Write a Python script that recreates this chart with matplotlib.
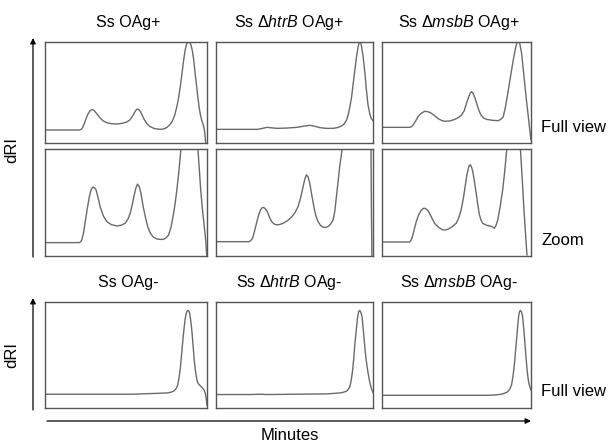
import numpy as np
import matplotlib.pyplot as plt

plt.rcParams['font.family'] = ['Liberation Sans', 'DejaVu Sans']
plt.rcParams['mathtext.fontset'] = 'custom'
plt.rcParams['mathtext.rm'] = 'Liberation Sans'
plt.rcParams['mathtext.it'] = 'Liberation Sans:italic'

# --- data (x: % of run window, y: % of panel height) ---
# row 1, full view (OAg+)
x_wt_full = [0, 21.6, 22.5, 23.3, 24.3, 25.4, 26.4, 27.4, 28.3, 29.3, 30.2, 31.1, 34, 36, 38.1, 41, 44.3,
             47.5, 50.5, 52.2, 53.6, 54.8, 55.7, 56.4, 57.1, 57.9, 58.8, 60, 61.2, 63, 64.9, 67.5, 71.1,
             73.5, 75.3, 77, 78.4, 80, 81.4, 82.5, 83.5, 84.5, 85.6, 86.4, 87.2, 88, 88.7, 89.4, 90.1,
             91, 91.8, 92.6, 93.4, 94.3, 95.1, 95.7, 96.3, 96.9, 97.5, 98, 98.4, 98.8, 99.2]
y_wt_full = [12.9, 12.9, 13.6, 15.5, 19.5, 24.4, 28.3, 31, 32.5, 33, 32.4, 30.7, 24.8, 21.8, 20.1, 19.1, 18.8,
             19.4, 20.8, 22.6, 25.4, 28.8, 31.4, 33, 33.7, 33, 31.4, 27.5, 23.4, 19, 16.2, 14.3, 13.5,
             14, 15.5, 18, 21.1, 27, 36, 45, 55.8, 68, 82.2, 91, 97, 100, 100.7, 99.5, 97,
             91, 82.2, 70, 59.1, 46, 36, 30, 25.4, 21.5, 18.8, 16, 12.9, 7, 0]

x_htrb_full = [0, 26.3, 29, 32.6, 35.5, 38.9, 45, 51.6, 56, 60, 63, 66.3, 70, 74.7, 77.5, 80, 81.7, 83.2,
               84.3, 85.3, 86.4, 87.4, 88.5, 89.5, 90.5, 91.2, 91.6, 92.1, 92.8, 93.7, 94.8, 95.8, 96.8,
               97.9, 98.8, 100]
y_htrb_full = [13.5, 13.5, 14.3, 15.5, 15, 14.5, 14.8, 15.5, 16.7, 17.5, 16.5, 15.2, 14.5, 14.5, 15.3, 16.8,
               19, 22.8, 28.5, 36, 46, 59.1, 73, 85.5, 95, 99.5, 101, 99.5, 95, 85.5, 70, 52.5, 38,
               29.4, 24.5, 22]

x_msbb_full = [0, 18.6, 19.8, 20.9, 22.5, 24.2, 26.5, 28.7, 31, 33.2, 35.5, 37.7, 40, 42.2, 45.5, 48.9,
               51.3, 53.4, 55.2, 56.7, 58, 59.2, 60.1, 61, 62.3, 63.5, 65, 66.4, 68.2, 70.2, 74, 78,
               79.8, 81.4, 82.9, 84.8, 86.5, 88.1, 89.5, 90.6, 91.5, 92.4, 93.7, 94.8, 96, 97.1, 98.2,
               99.1, 100]
y_msbb_full = [15.5, 15.5, 16.2, 17.8, 21.5, 26.1, 29.6, 31.4, 30.9, 29.4, 26.8, 24.1, 22.3, 21.5, 21.8, 23.4,
               25.2, 27.7, 32, 39.3, 45, 49.5, 50.8, 49.5, 45, 39.3, 32.5, 27.7, 24.8, 23.4, 22.5, 22.1,
               23.5, 26.1, 36, 52.5, 68, 82.2, 93, 99.5, 101.5, 99, 88.8, 73, 55.8, 40, 26.1,
               14, 3]

# row 2, zoom (OAg+); values above 100 run off the top of the panel
x_wt_zoom = [0, 21.2, 22, 22.7, 23.7, 24.7, 26, 27.4, 28.5, 29.5, 30.5, 31.5, 32.7, 34, 36, 38.1, 41,
             44.3, 47, 49.5, 51.2, 52.6, 54, 55.1, 56.2, 57.1, 58.1, 59.2, 60.5, 61.9, 63.4, 65, 67,
             69.1, 71, 73.2, 74.8, 76.3, 77.8, 79.4, 80.4, 81.4, 82.5, 83.5, 84.5, 88.7, 94.5, 95.3,
             96.1, 97.1, 98.1, 98.7, 99.2, 99.8]
y_wt_zoom = [12.5, 12.5, 13.3, 15, 21, 30.6, 43.5, 55.6, 62, 64.4, 63.8, 61.9, 55, 46.3, 37.5, 32.2, 29.3,
             28.1, 28.7, 30.6, 34.5, 40, 49, 57.2, 64, 67.2, 65, 58.8, 47, 36.9, 27.5, 21.3, 17.5,
             15.9, 15.5, 15.6, 17, 19.7, 27, 40, 50, 61.9, 77, 93.1, 110, 240, 97.8, 80,
             61.9, 45, 30.6, 22, 15, 0.9]

x_htrb_zoom = [0, 21.2, 22.2, 23.3, 24.5, 25.8, 27.1, 28.4, 29.5, 30.5, 31.5, 32.6, 34, 35.4, 37, 38.6,
               40.7, 42.8, 45.5, 48.1, 50.3, 52.3, 54, 55.5, 56.6, 57.6, 58.6, 59.7, 61, 62.3, 63.6, 65,
               66.6, 68.2, 69.8, 71.4, 73, 74.6, 75.7, 76.7, 77.8, 78.8, 80.3, 82, 91.6, 98.5, 99, 99.3]
y_htrb_zoom = [13.4, 13.4, 14.5, 16.6, 23, 30.6, 38, 43.1, 45.3, 45.3, 44, 41.6, 36.5, 32.2, 30, 29.1,
               29.5, 30.6, 33, 36.3, 40.5, 46.3, 55, 65, 72, 75.9, 74, 68.1, 57, 46.3, 37.5, 32.2,
               28.5, 26.9, 26.7, 27.5, 29.8, 33.8, 42, 55.6, 70, 83.8, 99.4, 200, 1200, 150, 40, 0]

x_msbb_zoom = [0, 18.5, 19.3, 20.1, 21.5, 23, 24.6, 26.3, 27.5, 28.6, 30, 31.3, 33.3, 35.3, 38, 40.8,
               42.5, 44.2, 47, 49.8, 51.5, 53.1, 54.5, 55.8, 57, 58, 58.6, 59.2, 60, 60.9, 62, 63.2,
               64.3, 65.4, 66.5, 67.6, 70, 72.1, 73.8, 75.4, 76.5, 77.7, 79.3, 81, 82.2, 83.3, 84.4,
               91.5, 92.9, 94.4, 95.2, 96, 96.7, 97.3]
y_msbb_zoom = [13.1, 13.1, 14.3, 16.6, 24, 32.2, 38.5, 42.5, 44.3, 44.7, 43.6, 41.6, 36, 30.6, 26.7, 24.4,
               24.3, 25, 27.3, 30.6, 35.5, 43.1, 53, 65, 76, 82.2, 84.5, 85.3, 83.5, 79.1, 70, 58.8,
               48, 38.4, 33.5, 30.6, 28.8, 28.1, 27.5, 25.9, 28.5, 33.8, 46, 61.9, 77, 93.1, 110,
               190, 100, 65, 45, 27.5, 13, 1]

# row 3, full view (OAg-)
x_wt_neg = [0, 54.6, 58.8, 67, 75.3, 77.5, 79.4, 80.8, 81.9, 82.7, 83.5, 84.4, 85.2, 85.9, 86.6, 87.3,
            88, 88.7, 89.3, 90, 90.7, 91.5, 92.2, 93, 93.8, 94.6, 95.5, 96.5, 97.5, 98.3, 99, 99.5, 100]
y_wt_neg = [13, 13, 13.3, 13.7, 14.2, 14.8, 15.8, 18, 21.5, 28, 37.3, 52, 65.8, 76, 84.8, 90,
            92.1, 91.5, 89.6, 82, 72.2, 57, 43.7, 33.5, 26.3, 23, 21.5, 20, 18.4, 16.5, 13.6, 9, 2.5]

x_htrb_neg = [0, 21.8, 28.1, 32.3, 50, 70.4, 78.9, 81, 83.1, 84.2, 85.2, 86, 86.9, 87.7, 88.4, 89.3,
              90.1, 90.8, 91.5, 92.2, 93, 93.6, 94.3, 95, 95.8, 96.7, 97.5, 98.2, 99, 100]
y_htrb_neg = [12.7, 12.7, 13, 12.7, 13, 13.3, 14.2, 14.8, 15.8, 17.5, 19.9, 25, 34.2, 46, 59.5, 73,
              84.8, 90.5, 92.1, 90.5, 86.4, 77, 65.8, 54, 43.7, 34.5, 27.8, 22.5, 18.4, 14.6]

x_msbb_neg = [0, 70.8, 76, 79.8, 82, 84.3, 85.7, 86.9, 87.9, 88.8, 89.7, 90.6, 91.1, 91.7, 92.2, 92.8,
              93.5, 94.2, 94.8, 95.5, 96.2, 96.9, 97.5, 98.2, 98.9, 99.6, 100]
y_msbb_neg = [12, 12, 12.3, 12.9, 13.8, 15.2, 17.8, 21.5, 30, 40.5, 55, 69, 78, 86.4, 90.5, 92.1,
              91, 88, 80, 69, 56, 43.7, 34, 26.3, 21.5, 18.4, 16.8]

traces = [
    [(x_wt_full, y_wt_full), (x_htrb_full, y_htrb_full), (x_msbb_full, y_msbb_full)],
    [(x_wt_zoom, y_wt_zoom), (x_htrb_zoom, y_htrb_zoom), (x_msbb_zoom, y_msbb_zoom)],
    [(x_wt_neg, y_wt_neg), (x_htrb_neg, y_htrb_neg), (x_msbb_neg, y_msbb_neg)],
]
titles_pos = ['Ss OAg+', r'Ss $\Delta$$\it{htrB}$ OAg+', r'Ss $\Delta$$\it{msbB}$ OAg+']
titles_neg = ['Ss OAg-', r'Ss $\Delta$$\it{htrB}$ OAg-', r'Ss $\Delta$$\it{msbB}$ OAg-']
row_labels = ['Full view', 'Zoom', 'Full view']

W, H = 612, 443
fig = plt.figure(figsize=(W / 100, H / 100), dpi=100)

# panel frames in pixels (left, right) and (top, bottom)
cols = [(45, 207), (216, 373), (382, 531)]
rows = [(42, 143), (149, 256), (302, 408)]
title_x = [128, 289, 459]
FS_TITLE = 11.5
FS_LABEL = 12


def fx(px):
    return px / W


def fy(py):
    return 1 - py / H


for r, (top, bot) in enumerate(rows):
    for c, (left, right) in enumerate(cols):
        ax = fig.add_axes([fx(left), fy(bot), (right - left) / W, (bot - top) / H])
        xs, ys = traces[r][c]
        ax.plot(xs, ys, color='#6a6a6a', lw=1.0)
        ax.set_xlim(0, 100)
        ax.set_ylim(0, 100)
        ax.set_xticks([])
        ax.set_yticks([])
        for s in ax.spines.values():
            s.set_color('#555555')
            s.set_linewidth(1.0)
    fig.text(fx(541), fy(bot - 16), row_labels[r], fontsize=FS_LABEL, ha='left', va='center')

for c in range(3):
    fig.text(fx(title_x[c]), fy(23), titles_pos[c], fontsize=FS_TITLE, ha='center', va='center')
    fig.text(fx(title_x[c]), fy(283), titles_neg[c], fontsize=FS_TITLE, ha='center', va='center')

arrow = dict(arrowstyle='-|>', color='black', lw=0.9, mutation_scale=8, shrinkA=0, shrinkB=0)
fig.add_artist(plt.matplotlib.patches.FancyArrowPatch((fx(33), fy(257)), (fx(33), fy(38)),
                                                       transform=fig.transFigure, **arrow))
fig.add_artist(plt.matplotlib.patches.FancyArrowPatch((fx(33), fy(410)), (fx(33), fy(298)),
                                                       transform=fig.transFigure, **arrow))
fig.add_artist(plt.matplotlib.patches.FancyArrowPatch((fx(47), fy(421)), (fx(531), fy(421)),
                                                       transform=fig.transFigure, **arrow))

fig.text(fx(12), fy(150), 'dRI', fontsize=FS_LABEL, rotation=90, ha='center', va='center')
fig.text(fx(12), fy(355), 'dRI', fontsize=FS_LABEL, rotation=90, ha='center', va='center')
fig.text(fx(290), fy(435), 'Minutes', fontsize=FS_LABEL, ha='center', va='center')

fig.savefig('out.png', dpi=100)
